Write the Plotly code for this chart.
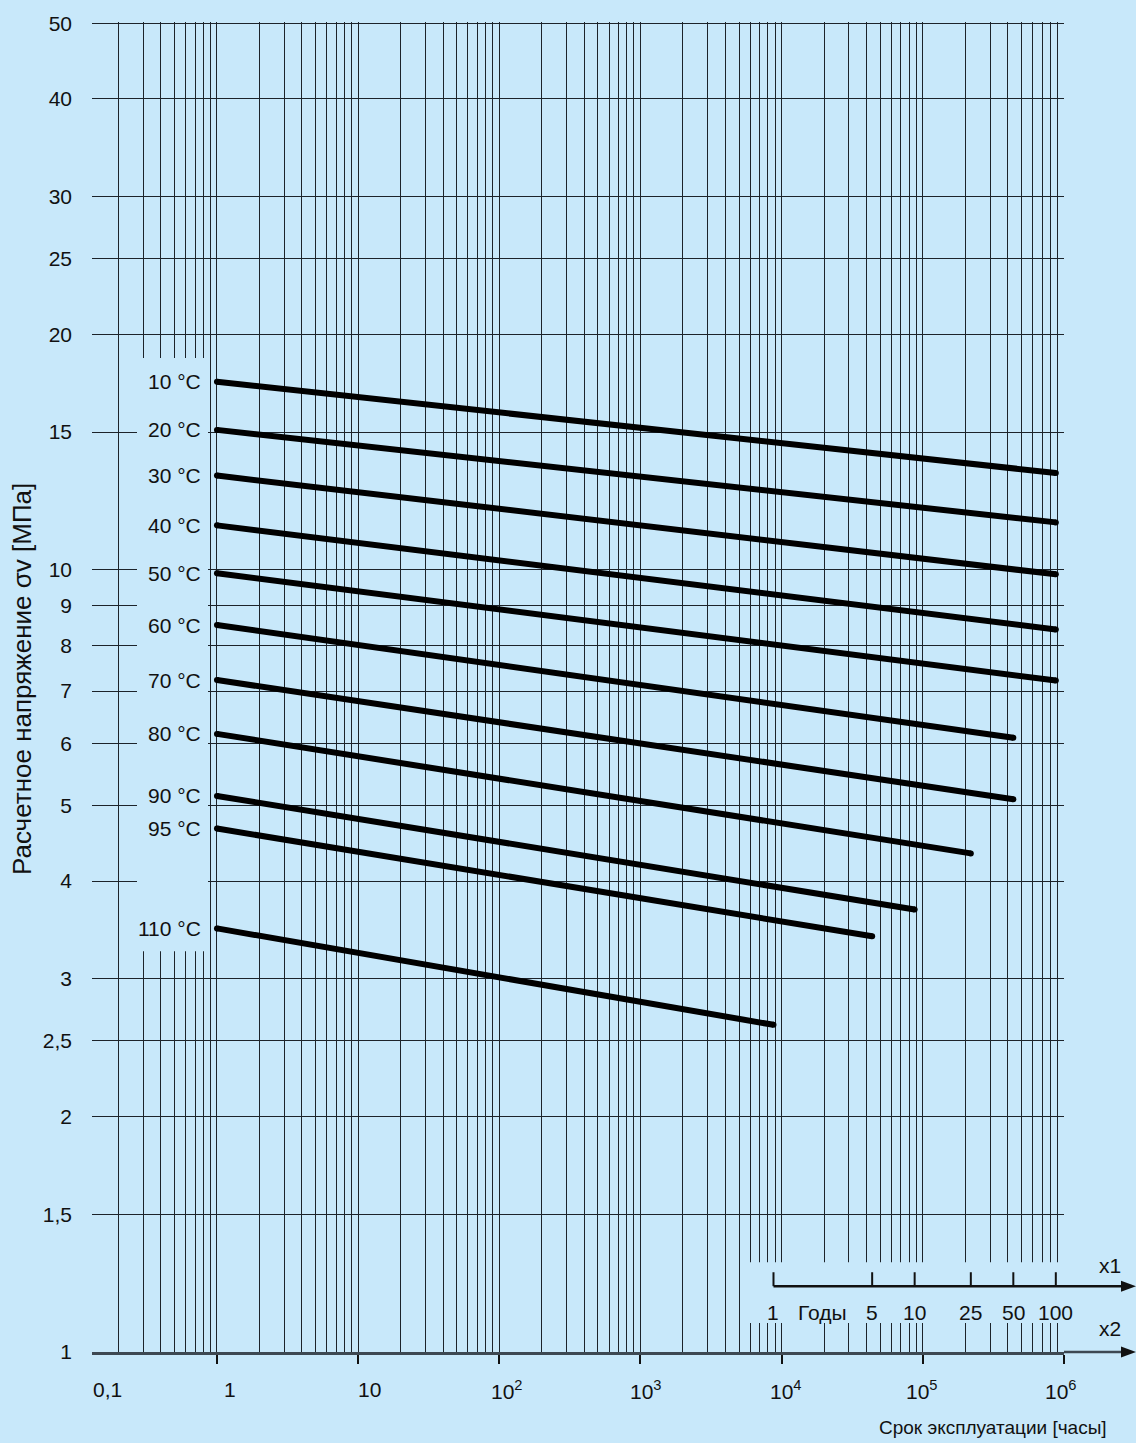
import numpy as np
import plotly.graph_objects as go

# --- data --------------------------------------------------------------------
temps = ["10 °C", "20 °C", "30 °C", "40 °C", "50 °C", "60 °C",
         "70 °C", "80 °C", "90 °C", "95 °C", "110 °C"]
stress_1h = [17.4, 15.1, 13.2, 11.4, 9.9, 8.5, 7.23, 6.17, 5.14, 4.67, 3.48]
stress_end = [13.3, 11.5, 9.87, 8.39, 7.22, 6.10, 5.09, 4.34, 3.68, 3.40, 2.62]
end_years = [100, 100, 100, 100, 100, 50, 50, 25, 10, 5, 1]
HOURS_PER_YEAR = 8760

y_ticks = [1, 1.5, 2, 2.5, 3, 4, 5, 6, 7, 8, 9, 10, 15, 20, 25, 30, 40, 50]
y_ticktext = [str(v).replace(".", ",") for v in y_ticks]

x_decades = [0.1, 1, 10, 100, 1e3, 1e4, 1e5, 1e6]
x_decade_labels = ["0,1", "1", "10", "10<sup>2</sup>", "10<sup>3</sup>",
                   "10<sup>4</sup>", "10<sup>5</sup>", "10<sup>6</sup>"]
year_ticks = [1, 5, 10, 25, 50, 100]
year_labels = ["1", "5", "10", "25", "50", "100"]

# --- geometry ----------------------------------------------------------------
W, H = 1136, 1443
PL, PR, PT, PB = 92, 1064, 18, 1352
XMIN, XMAX = -0.8853, 6.0005
YMIN, YMAX = 0.0, np.log10(50) + 0.0015
BG = "#c8e8fa"
INK = "#111111"
GRID = "#1c232a"
FONT = "Liberation Sans, Arial, sans-serif"


def px_x(p):
    return (p - PL) / (PR - PL)


def px_y(p):
    return (PB - p) / (PB - PT)


def hx(hours):
    return (np.log10(hours) - XMIN) / (XMAX - XMIN)


minor_x = [k * d for d in x_decades[:-1] for k in range(2, 10)]

fig = go.Figure()

for name, s0, s1, yrs in zip(temps, stress_1h, stress_end, end_years):
    fig.add_trace(go.Scatter(
        x=[1, yrs * HOURS_PER_YEAR], y=[s0, s1],
        mode="lines+markers",
        line=dict(color="black", width=6),
        marker=dict(color="black", size=6),
        showlegend=False, hoverinfo="skip", cliponaxis=False,
    ))

shapes = [
    # blank strip behind the temperature labels
    dict(type="rect", xref="paper", yref="paper",
         x0=px_x(137), x1=px_x(208), y0=px_y(950), y1=px_y(355),
         fillcolor=BG, line=dict(width=0), layer="above"),
    # blank strip behind the years scale
    dict(type="rect", xref="paper", yref="paper",
         x0=px_x(745), x1=px_x(1136), y0=px_y(1323), y1=px_y(1262),
         fillcolor=BG, line=dict(width=0), layer="above"),
    # years axis
    dict(type="line", xref="paper", yref="paper",
         x0=hx(HOURS_PER_YEAR), x1=px_x(1124), y0=px_y(1286), y1=px_y(1286),
         line=dict(color=INK, width=2.5), layer="above"),
    # continuation of the hours axis
    dict(type="line", xref="paper", yref="paper",
         x0=1, x1=px_x(1124), y0=0, y1=0,
         line=dict(color="#3d4852", width=2.5), layer="above"),
]
for yv in (1286, 1352):
    tip, base, half = px_x(1136), px_x(1121), 5.5 / (PB - PT)
    yc = px_y(yv)
    shapes.append(dict(
        type="path", xref="paper", yref="paper",
        path=f"M {base},{yc - half} L {tip},{yc} L {base},{yc + half} Z",
        fillcolor=INK, line=dict(width=0), layer="above"))
for yr in year_ticks:
    xp = hx(yr * HOURS_PER_YEAR)
    shapes.append(dict(type="line", xref="paper", yref="paper",
                       x0=xp, x1=xp, y0=px_y(1286), y1=px_y(1272),
                       line=dict(color=INK, width=2), layer="above"))

annotations = []
for name, s0 in zip(temps, stress_1h):
    annotations.append(dict(
        x=0, y=np.log10(s0), xref="x", yref="y", text=name,
        xanchor="right", yanchor="middle", xshift=-14, showarrow=False,
        font=dict(size=21, color=INK, family=FONT)))

label_nudge = [32, 13, 11, 8, 6, 4, -1, -3]
for d, lab, dx in zip(x_decades, x_decade_labels, label_nudge):
    annotations.append(dict(
        x=hx(d), y=px_y(1390), xref="paper", yref="paper", text=lab,
        xanchor="center", yanchor="middle", xshift=dx, showarrow=False,
        font=dict(size=21, color=INK, family=FONT)))

for yr, lab in zip(year_ticks, year_labels):
    annotations.append(dict(
        x=hx(yr * HOURS_PER_YEAR), y=px_y(1312), xref="paper", yref="paper",
        text=lab, xanchor="center", yanchor="middle", showarrow=False,
        font=dict(size=21, color=INK, family=FONT)))

extra_text = [
    ("Годы", 822, 1312, "center", 21),
    ("x1", 1110, 1265, "center", 21),
    ("x2", 1110, 1328, "center", 21),
    ("Срок эксплуатации [часы]", 1109, 1428, "right", 19),
]
for txt, xp, yp, anchor, size in extra_text:
    annotations.append(dict(
        x=px_x(xp), y=px_y(yp), xref="paper", yref="paper", text=txt,
        xanchor=anchor, yanchor="middle", showarrow=False,
        font=dict(size=size, color=INK, family=FONT)))

annotations.append(dict(
    x=px_x(22), y=px_y(677), xref="paper", yref="paper",
    text="Расчетное напряжение σv [МПа]", textangle=-90,
    xanchor="center", yanchor="middle", showarrow=False,
    font=dict(size=26, color=INK, family=FONT)))

fig.update_layout(
    width=W, height=H,
    margin=dict(l=PL, r=W - PR, t=PT, b=H - PB, pad=0),
    paper_bgcolor=BG, plot_bgcolor=BG,
    font=dict(family=FONT, size=21, color=INK),
    shapes=shapes, annotations=annotations,
    xaxis=dict(
        type="log", range=[XMIN, XMAX],
        tickvals=x_decades[1:], showticklabels=False,
        ticks="outside", ticklen=9, tickwidth=1.5, tickcolor=INK,
        showgrid=True, gridcolor=GRID, gridwidth=1.2,
        minor=dict(tickvals=minor_x, showgrid=True, gridcolor=GRID,
                   gridwidth=1.2, ticks=""),
        showline=True, linecolor="#3d4852", linewidth=2.5,
        zeroline=False,
    ),
    yaxis=dict(
        type="log", range=[YMIN, YMAX],
        tickvals=y_ticks, ticktext=y_ticktext,
        ticks="", ticklabelstandoff=19,
        showgrid=True, gridcolor=GRID, gridwidth=1.2,
        showline=False, zeroline=False,
        tickfont=dict(size=21, color=INK, family=FONT),
    ),
)

fig.write_html("out.html", config={"displayModeBar": False},
               post_script="document.body.style.margin='0';")
